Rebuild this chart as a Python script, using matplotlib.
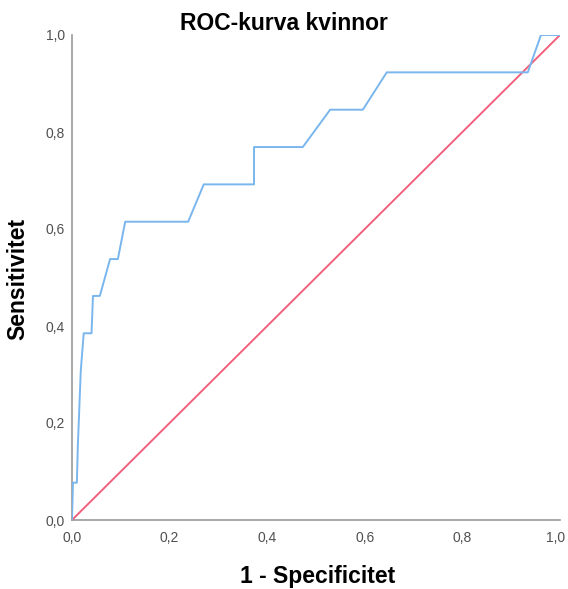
import matplotlib
matplotlib.use("Agg")
from matplotlib import pyplot as plt
from matplotlib.transforms import ScaledTranslation

plt.rcParams['font.family'] = ['Liberation Sans', 'DejaVu Sans']

# ROC points (1 - specificity, sensitivity)
fpr = [0.0, 0.002, 0.010, 0.012, 0.018, 0.024, 0.040, 0.043, 0.057, 0.078, 0.094,
       0.109, 0.238, 0.270, 0.373, 0.373, 0.473, 0.529, 0.596, 0.645, 0.934, 0.961, 1.0]
tpr = [0.0, 0.077, 0.077, 0.154, 0.308, 0.385, 0.385, 0.462, 0.462, 0.538, 0.538,
       0.615, 0.615, 0.692, 0.692, 0.769, 0.769, 0.846, 0.846, 0.923, 0.923, 1.0, 1.0]
ref_line = [0.0, 1.0]
ticks = [0.0, 0.2, 0.4, 0.6, 0.8, 1.0]
tick_labels = ['0,0', '0,2', '0,4', '0,6', '0,8', '1,0']

fig = plt.figure(figsize=(5.68, 5.89), dpi=100)
ax = fig.add_axes([72/568, 69/589, 488/568, 485/589])

ax.plot(ref_line, ref_line, color='#f1607c', linewidth=1.4, zorder=2)
ax.plot(fpr, tpr, color='#7ab6ee', linewidth=1.4, zorder=3)

ax.set_xlim(0, 1)
ax.set_ylim(0, 1)
ax.set_xticks(ticks)
ax.set_xticklabels(tick_labels)
ax.set_yticks(ticks)
ax.set_yticklabels(tick_labels)
ax.tick_params(length=0, labelsize=10, labelcolor='#505050')
ax.tick_params(axis='x', pad=8)
ax.tick_params(axis='y', pad=5)

# last x label sits at the right edge, nudge it in a little
last = ax.get_xticklabels()[-1]
last.set_transform(last.get_transform() + ScaledTranslation(-4/100, 0, fig.dpi_scale_trans))

for side in ['top', 'right']:
    ax.spines[side].set_visible(False)
for side in ['left', 'bottom']:
    ax.spines[side].set_color('#999999')
    ax.spines[side].set_linewidth(1.2)
    ax.spines[side].set_zorder(1)

fig.text(284/568, 1 - 23/589, 'ROC-kurva kvinnor', ha='center', va='center',
         fontsize=16.5, fontweight='bold')
fig.text(318/568, 1 - 576/589, '1 - Specificitet', ha='center', va='center',
         fontsize=16.5, fontweight='bold')
fig.text(18/568, 1 - 279/589, 'Sensitivitet', ha='center', va='center',
         rotation=90, fontsize=16.5, fontweight='bold')

fig.savefig('out.png', dpi=100)
